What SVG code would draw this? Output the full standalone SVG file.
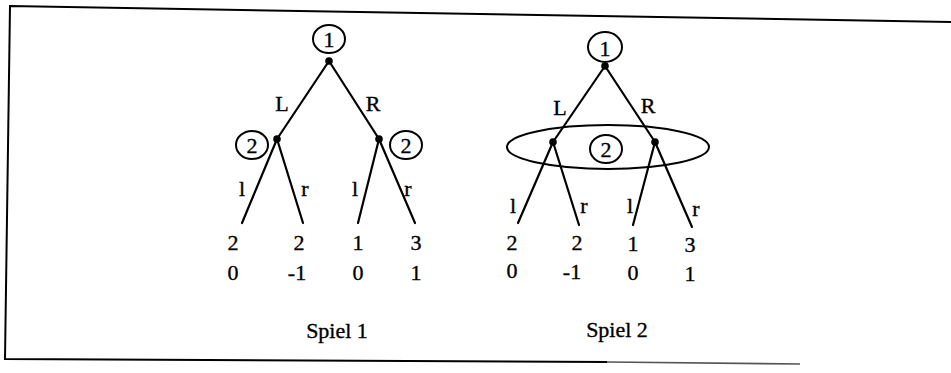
<svg xmlns="http://www.w3.org/2000/svg" width="951" height="373" viewBox="0 0 951 373">
<style>
.t{font-family:"Liberation Serif","Times New Roman",serif;font-size:22px;fill:#000;stroke:#000;stroke-width:0.35;text-anchor:middle}
.e{fill:none;stroke:#000;stroke-width:2}
.c line{stroke:#000;stroke-width:2.2;stroke-linecap:round}
.f{fill:none;stroke:#000;stroke-width:2}
</style>
<rect width="951" height="373" fill="#fff"/>
<polyline class="f" points="951,22 10,6 5,359 607,362"/>
<polyline points="607,362 800,364" fill="none" stroke="#555" stroke-width="1.6"/>

<g id="connectors" class="c">
  <line x1="329" y1="61" x2="277" y2="139"/>
  <line x1="329" y1="61" x2="379" y2="139"/>
  <line x1="277" y1="139" x2="242" y2="223"/>
  <line x1="277" y1="139" x2="303" y2="223"/>
  <line x1="379" y1="139" x2="358" y2="223"/>
  <line x1="379" y1="139" x2="415" y2="223"/>
  <line x1="605" y1="66" x2="553" y2="142"/>
  <line x1="605" y1="66" x2="655" y2="142"/>
  <line x1="553" y1="142" x2="518" y2="223"/>
  <line x1="553" y1="142" x2="579" y2="225"/>
  <line x1="655" y1="142" x2="633" y2="225"/>
  <line x1="655" y1="142" x2="692" y2="227"/>
</g>

<g id="s1-root">
  <ellipse class="e" cx="329" cy="39" rx="16" ry="14"/>
  <text class="t" x="329" y="47">1</text>
  <circle cx="329" cy="61" r="3.8"/>
</g>
<g id="s1-left">
  <ellipse class="e" cx="252" cy="145" rx="16" ry="14"/>
  <text class="t" x="252" y="153">2</text>
  <circle cx="277" cy="139" r="3.8"/>
</g>
<g id="s1-right">
  <ellipse class="e" cx="406" cy="145" rx="16" ry="14"/>
  <text class="t" x="406" y="153">2</text>
  <circle cx="379" cy="139" r="3.8"/>
</g>
<g id="s1-labels">
  <text class="t" x="282" y="111">L</text>
  <text class="t" x="373" y="111">R</text>
  <text class="t" x="242" y="196">l</text>
  <text class="t" x="305" y="196">r</text>
  <text class="t" x="355" y="196">l</text>
  <text class="t" x="408" y="196">r</text>
</g>
<g id="s1-payoffs">
  <text class="t" x="233" y="250">2</text>
  <text class="t" x="299" y="250">2</text>
  <text class="t" x="358" y="250">1</text>
  <text class="t" x="416" y="250">3</text>
  <text class="t" x="233" y="280">0</text>
  <text class="t" x="297" y="280">-1</text>
  <text class="t" x="358" y="280">0</text>
  <text class="t" x="416" y="280">1</text>
  <text class="t" x="337" y="338">Spiel 1</text>
</g>

<g id="s2-root">
  <ellipse class="e" cx="605" cy="47" rx="17" ry="15"/>
  <text class="t" x="605" y="56">1</text>
  <circle cx="605" cy="66" r="3.8"/>
</g>
<g id="s2-info">
  <ellipse class="e" cx="608" cy="147" rx="101" ry="22"/>
  <ellipse class="e" cx="606" cy="149" rx="16" ry="14"/>
  <text class="t" x="606" y="157">2</text>
  <circle cx="553" cy="142" r="3.8"/>
  <circle cx="655" cy="142" r="3.8"/>
</g>
<g id="s2-labels">
  <text class="t" x="560" y="115">L</text>
  <text class="t" x="648" y="113">R</text>
  <text class="t" x="513" y="213">l</text>
  <text class="t" x="584" y="213">r</text>
  <text class="t" x="630" y="213">l</text>
  <text class="t" x="696" y="216">r</text>
</g>
<g id="s2-payoffs">
  <text class="t" x="512" y="250">2</text>
  <text class="t" x="577" y="250">2</text>
  <text class="t" x="633" y="251">1</text>
  <text class="t" x="690" y="252">3</text>
  <text class="t" x="512" y="278">0</text>
  <text class="t" x="572" y="279">-1</text>
  <text class="t" x="633" y="280">0</text>
  <text class="t" x="690" y="281">1</text>
  <text class="t" x="617" y="337">Spiel 2</text>
</g>
</svg>
